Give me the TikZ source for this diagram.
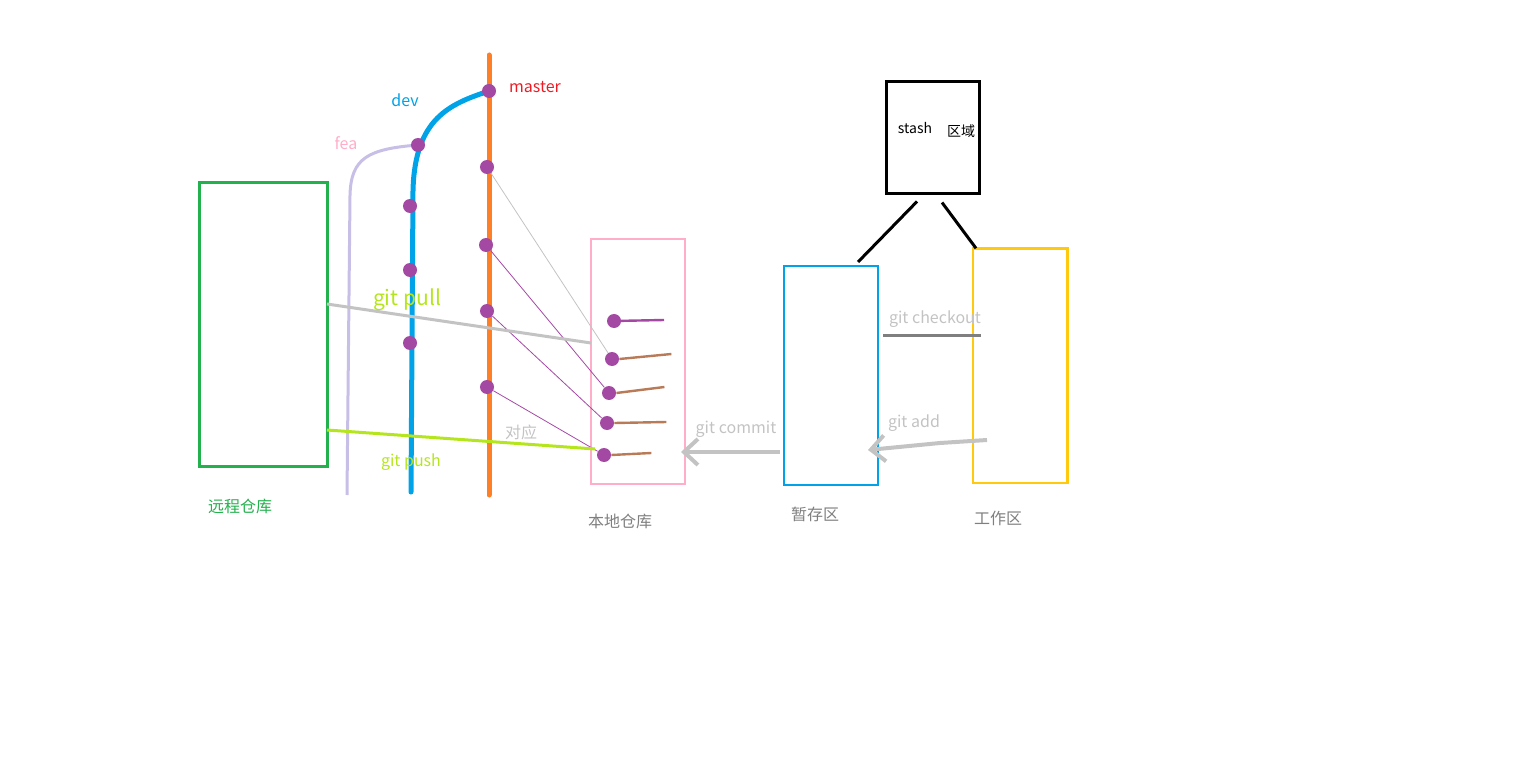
\documentclass[tikz,border=0pt]{standalone}
\usepackage{fontspec}
\setmainfont{Noto Sans CJK SC}
\usetikzlibrary{arrows.meta}
\definecolor{remotegreen}{HTML}{22B14C}
\definecolor{feacol}{HTML}{C8BFE7}
\definecolor{pinkcol}{HTML}{FFAEC9}
\definecolor{devblue}{HTML}{00A2E8}
\definecolor{masterorange}{HTML}{FF7F27}
\definecolor{masterred}{HTML}{ED1C24}
\definecolor{commitpurple}{HTML}{A349A4}
\definecolor{tailbrown}{HTML}{B97A57}
\definecolor{lightgray}{HTML}{C3C3C3}
\definecolor{darkgray}{HTML}{7F7F7F}
\definecolor{limegreen}{HTML}{B5E61D}
\definecolor{workyellow}{HTML}{FFC90E}
\tikzset{
  box/.style={draw,inner sep=0pt,minimum width=47pt},
  commit/.style={circle,fill=commitpurple,inner sep=0pt,minimum size=7pt},
  lbl/.style={font=\fontsize{8pt}{9pt}\selectfont,inner sep=0pt},
  tail/.style={line width=1.2pt},
  link/.style={commitpurple,line width=0.4pt},
  cmdarrow/.style={lightgray,line width=2pt,-{Straight Barb[length=7pt,width=13pt]}}
}
\begin{document}
\begin{tikzpicture}[x=0.5pt,y=-0.5pt]
                \useasboundingbox (0,0) rectangle (1534,780);
                %% repositories
                \node[box,draw=remotegreen,line width=1.5pt,minimum width=64pt,minimum height=141.5pt] (remote) at (263,324.5) {};
                \node[box,draw=pinkcol,line width=0.8pt,minimum height=122.5pt] (local) at (638,361.5) {};
                \node[box,draw=devblue,line width=1pt,minimum height=109.5pt] (stage) at (831,375.5) {};
                \node[box,draw=workyellow,line width=0.7pt,minimum height=117pt] (work) at (1020,366) {};
                \draw[workyellow,line width=1.5pt] (work.north west) -- (work.north east) -- (work.south east);
                \node[box,draw=black,line width=1.5pt,minimum width=46.5pt,minimum height=56pt] (stash) at (932.5,138) {};
                \node[lbl,font=\fontsize{7pt}{8pt}\selectfont] (stash-txt) at (915,128) {stash};
                \node[lbl,font=\fontsize{7pt}{8pt}\selectfont] (stash-zone) at (961,131) {区域};
                \draw[line width=1.5pt] ([xshift=-7.75pt,yshift=-3pt]stash.south) -- ([xshift=13.5pt,yshift=1.5pt]stage.north);
                \draw[line width=1.5pt] ([xshift=4.75pt,yshift=-3.5pt]stash.south) -- ([xshift=-22pt]work.north);
                %% branches
                \draw[feacol,line width=1.5pt] (347,495) -- (350,195) .. controls (351,158) and (368,149) .. (418,145);
                \draw[devblue,line width=2.5pt,line cap=round] (411,492) -- (413,190) .. controls (415,118) and (450,104) .. (489,91);
                \draw[masterorange,line width=2.5pt,line cap=round] (489,55) -- (489,495);
                \node[lbl,text=pinkcol] (fea-lbl) at (346,143) {fea};
                \node[lbl,text=devblue] (dev-lbl) at (405,100) {dev};
                \node[lbl,text=masterred] (master-lbl) at (535,87) {master};
                %% commits
                \node[commit] (m1) at (489,91) {};
                \node[commit] (m2) at (487,167) {};
                \node[commit] (m3) at (486,245) {};
                \node[commit] (m4) at (487,311) {};
                \node[commit] (m5) at (487,387) {};
                \node[commit] (d1) at (418,145) {};
                \node[commit] (d2) at (410,206) {};
                \node[commit] (d3) at (410,270) {};
                \node[commit] (d4) at (410,343) {};
                %% local commits
                \node[commit] (l1) at (614,321) {};
                \node[commit] (l2) at (612,359) {};
                \node[commit] (l3) at (609,393) {};
                \node[commit] (l4) at (607,423) {};
                \node[commit] (l5) at (604,455) {};
                \draw[tail,commitpurple] (l1.center) -- ++(25pt,0.5pt);
                \draw[tail,tailbrown] (l2.east) -- ++(26pt,2.5pt);
                \draw[tail,tailbrown] (l3.east) -- ++(24pt,3pt);
                \draw[tail,tailbrown] (l4.east) -- ++(26pt,0.5pt);
                \draw[tail,tailbrown] (l5.east) -- ++(20pt,1pt);
                \draw[lightgray,line width=0.4pt] (m2) -- (l2);
                \draw[link] (m3) -- (l3);
                \draw[link] (m4) -- (l4);
                \draw[link] (m5) -- (l5);
                %% pull / push
                \coordinate (pull-s) at (327,304);
                \coordinate (pull-e) at (591,343);
                \coordinate (push-s) at (327,430);
                \coordinate (push-e) at (595,449);
                \draw[lightgray,line width=1.5pt] (pull-s) -- (pull-e);
                \draw[limegreen,line width=1.5pt] (push-s) -- (push-e);
                \node[lbl,text=limegreen,font=\fontsize{10.5pt}{12pt}\selectfont] (pull-lbl) at (407,300) {git pull};
                \node[lbl,text=limegreen] (push-lbl) at (411,462) {git push};
                \node[lbl,text=lightgray] (map-lbl) at (521,432) {对应};
                %% commands between areas
                \coordinate (ck-s) at (883,335);
                \coordinate (ck-e) at (981,335);
                \draw[darkgray,line width=1.5pt] (ck-s) -- (ck-e);
                \node[lbl,text=lightgray] (ck-lbl) at (935,319) {git checkout};
                \coordinate (add-s) at (987,440);
                \coordinate (add-e) at (868,450);
                \draw[cmdarrow] (add-s) -- (940,443) -- (add-e);
                \node[lbl,text=lightgray] (add-lbl) at (914,423) {git add};
                \coordinate (ci-e) at (681,452);
                \draw[cmdarrow] ([xshift=-1.5pt,yshift=17pt]stage.south west) -- (ci-e);
                \node[lbl,text=lightgray] (ci-lbl) at (736,429) {git commit};
                %% area names
                \node[lbl,text=remotegreen] (remote-lbl) at (240,506) {远程仓库};
                \node[lbl,text=darkgray] (local-lbl) at (620,521) {本地仓库};
                \node[lbl,text=darkgray] (stage-lbl) at (815,514) {暂存区};
                \node[lbl,text=darkgray] (work-lbl) at (998,518) {工作区};
            \end{tikzpicture}
\end{document}
